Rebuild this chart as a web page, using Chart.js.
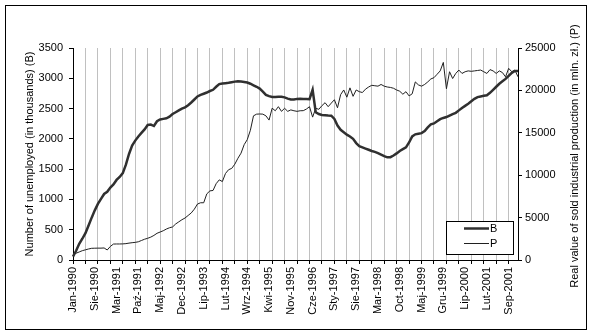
<!DOCTYPE html>
<html>
<head>
<meta charset="utf-8">
<script src="https://cdn.jsdelivr.net/npm/chart.js@4.4.0/dist/chart.umd.min.js"></script>
<style>
    body { margin: 0; background: #fff; }
    #wrap { position: relative; width: 595px; height: 336px; }
</style>
</head>
<body>
<div id="wrap"><canvas id="chart" width="595" height="336"></canvas></div>
<script>
// monthly series, Jan 1990 .. Dec 2001 (one row per year)
const unemployed = [
    56, 152, 267, 351, 443, 568, 699, 820, 926, 1008, 1090, 1126,
    1196, 1247, 1322, 1371, 1435, 1574, 1750, 1888, 1971, 2039, 2098, 2156,
    2230, 2235, 2212, 2290, 2320, 2330, 2340, 2365, 2410, 2440, 2470, 2500,
    2520, 2555, 2600, 2650, 2700, 2725, 2745, 2765, 2790, 2810, 2860, 2905,
    2915, 2920, 2925, 2935, 2945, 2950, 2945, 2940, 2930, 2910, 2885, 2860,
    2830, 2780, 2725, 2705, 2690, 2690, 2695, 2695, 2685, 2665, 2650, 2650,
    2660, 2662, 2660, 2658, 2655, 2810, 2440, 2410, 2395, 2390, 2385, 2382,
    2330, 2220, 2150, 2110, 2070, 2040, 2000, 1930, 1880, 1860, 1840, 1820,
    1800, 1785, 1765, 1740, 1715, 1695, 1698, 1725, 1760, 1800, 1830, 1860,
    1940, 2040, 2075, 2085, 2095, 2130, 2190, 2240, 2255, 2290, 2325, 2345,
    2360, 2385, 2410, 2430, 2470, 2510, 2545, 2580, 2620, 2660, 2690, 2700,
    2710, 2720, 2760, 2810, 2860, 2910, 2950, 2990, 3040, 3090, 3120, 3120
];
const production = [
    700, 800, 950, 1100, 1200, 1300, 1380, 1390, 1400, 1400, 1420, 1180,
    1600, 1880, 1890, 1890, 1900, 1930, 1990, 2040, 2080, 2150, 2300, 2450,
    2560, 2700, 2900, 3150, 3300, 3450, 3650, 3800, 3900, 4250, 4500, 4750,
    4950, 5250, 5550, 6000, 6600, 6750, 6750, 7800, 8150, 8200, 9000, 9450,
    9250, 10200, 10650, 10800, 11300, 12000, 12600, 13600, 14200, 15300, 17000, 17200,
    17220, 17200, 17000, 16500, 17900, 17600, 18080, 17530, 17890, 17530, 17700, 17600,
    17530, 17600, 17610, 17800, 18080, 16850, 17890, 17770, 18200, 18550, 18080, 18500,
    18900, 17950, 19500, 20050, 19200, 20300, 19300, 20050, 19850, 19750, 20150, 20400,
    20600, 20550, 20500, 20700, 20500, 20400, 20350, 20250, 20050, 19900, 19550, 19850,
    19350, 19600, 21000, 20650, 20500, 20700, 21000, 21350, 21500, 21900, 22300, 23300,
    20200, 22200, 21400, 22000, 22400, 22000, 22200, 22300, 22250, 22300, 22350, 22400,
    22200, 22000, 22450, 22300, 22000, 22300, 22100, 21600, 22600, 22200, 22400, 21600
];
// labels shown under the axis, one every 7 months
const tickLabels = [
    'Jan-1990', 'Sie-1990', 'Mar-1991', 'Paź-1991', 'Maj-1992', 'Dec-1992', 'Lip-1993',
    'Lut-1994', 'Wrz-1994', 'Kwi-1995', 'Nov-1995', 'Cze-1996', 'Sty-1997', 'Sie-1997',
    'Mar-1998', 'Oct-1998', 'Maj-1999', 'Gru-1999', 'Lip-2000', 'Lut-2001', 'Sep-2001'
];
const labelStep = 7;
const gridStep = 4;

const months = [];
for (let y = 1990; y <= 2001; y++) {
    for (let m = 1; m <= 12; m++) months.push(y + '-' + String(m).padStart(2, '0'));
}

const font = { family: "'Liberation Sans', Arial, sans-serif", size: 11 };
const plain = v => String(v);

// outer frame, right axis title and the small legend box
const extras = {
    id: 'extras',
    afterDraw(chart) {
        const ctx = chart.ctx;
        ctx.save();
        ctx.strokeStyle = '#000';
        ctx.lineWidth = 1;
        ctx.strokeRect(5.5, 5.5, 581, 324);

        ctx.fillStyle = '#000';
        ctx.font = "11px 'Liberation Sans', Arial, sans-serif";
        ctx.save();
        ctx.translate(575, 156);
        ctx.rotate(-Math.PI / 2);
        ctx.textAlign = 'center';
        ctx.textBaseline = 'middle';
        ctx.fillText('Real value of sold industrial production (in mln. zł.) (P)', 0, 0);
        ctx.restore();

        ctx.fillStyle = '#fff';
        ctx.fillRect(446.5, 221.5, 67, 33);
        ctx.strokeRect(446.5, 221.5, 67, 33);
        chart.data.datasets.forEach((ds, k) => {
            const y = 228.5 + k * 15;
            ctx.strokeStyle = ds.borderColor;
            ctx.lineWidth = ds.borderWidth;
            ctx.beginPath();
            ctx.moveTo(464, y);
            ctx.lineTo(489, y);
            ctx.stroke();
            ctx.fillStyle = '#000';
            ctx.textAlign = 'left';
            ctx.textBaseline = 'middle';
            ctx.fillText(ds.label, 490, y);
        });
        ctx.restore();
    }
};

new Chart(document.getElementById('chart'), {
    type: 'line',
    data: {
        labels: months,
        datasets: [
            { label: 'B', data: unemployed, yAxisID: 'yB', borderColor: '#303030', borderWidth: 2.5, pointRadius: 0, tension: 0 },
            { label: 'P', data: production, yAxisID: 'yP', borderColor: '#202020', borderWidth: 1, pointRadius: 0, tension: 0 }
        ]
    },
    options: {
        responsive: false,
        animation: false,
        devicePixelRatio: 1,
        layout: { padding: { top: 48 } },
        plugins: { legend: { display: false }, tooltip: { enabled: false } },
        scales: {
            x: {
                ticks: {
                    autoSkip: false, minRotation: 90, maxRotation: 90, padding: 3, color: '#000', font,
                    callback: (v, i) => i % labelStep === 0 ? tickLabels[i / labelStep] : ''
                },
                grid: {
                    color: c => c.index % gridStep === 0 ? '#c0c0c0' : 'rgba(0,0,0,0)',
                    tickColor: c => c.index % gridStep === 0 ? '#000' : 'rgba(0,0,0,0)',
                    tickLength: 4
                },
                border: { color: '#000' },
                afterFit: s => { s.height = 76; }
            },
            yB: {
                position: 'left', min: 0, max: 3500,
                ticks: { stepSize: 500, padding: 6, color: '#000', font, callback: plain },
                grid: { drawOnChartArea: false, tickLength: 4, tickColor: '#000' },
                border: { color: '#000' },
                title: { display: true, text: 'Number of unemployed (in thousands) (B)', color: '#000', font, padding: { top: 23 } },
                afterFit: s => { s.width = 73; }
            },
            yP: {
                position: 'right', min: 0, max: 25000,
                ticks: { stepSize: 5000, padding: 3, color: '#000', font, callback: plain },
                grid: { drawOnChartArea: false, tickLength: 4, tickColor: '#000' },
                border: { color: '#000' },
                afterFit: s => { s.width = 77; }
            }
        }
    },
    plugins: [extras]
});
</script>
</body>
</html>
